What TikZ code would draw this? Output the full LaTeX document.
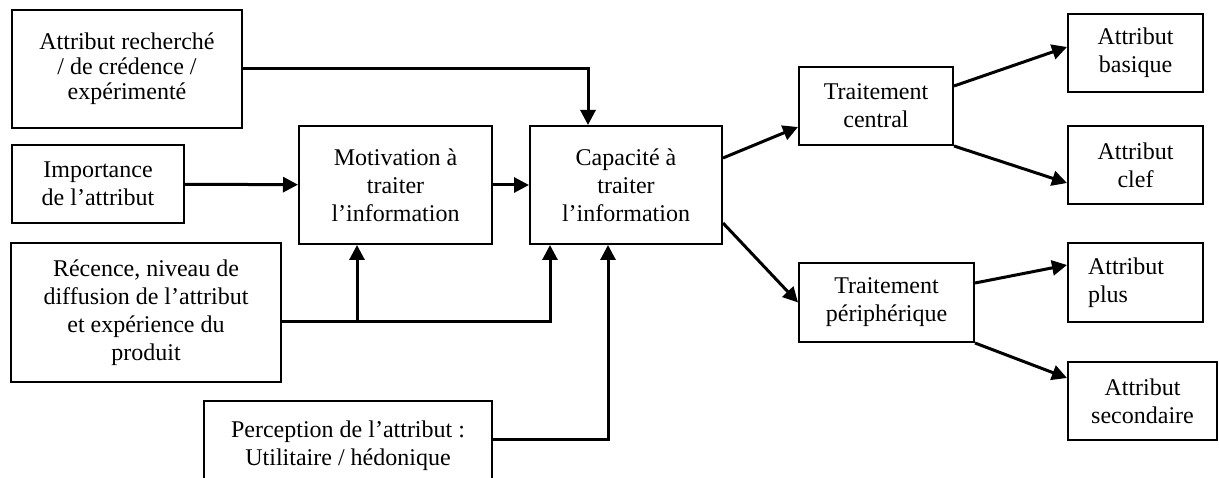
\documentclass[tikz,border=0pt]{standalone}
\usepackage{fontspec}
\setmainfont{Liberation Serif}
\usepackage{tikz}
\usetikzlibrary{arrows.meta}

\begin{document}
\begin{tikzpicture}[x=1pt,y=-1pt,
    box/.style={draw, line width=2pt, align=center, inner sep=0pt,
        font=\fontsize{24pt}{28pt}\selectfont},
    fleche/.style={-{Triangle[length=15pt,width=15pt]}, line width=3pt}]
    \useasboundingbox (0,0) rectangle (1219,478);

    % facteurs
    \node[box, minimum width=230pt, minimum height=118pt,
        font=\fontsize{24pt}{25pt}\selectfont] (Recherche) at (127,69)
        {Attribut recherch\'e\\/ de cr\'edence /\\exp\'eriment\'e};
    \node[box, minimum width=172pt, minimum height=78pt] (Importance) at (98,184)
        {Importance\\de l'attribut};
    \node[box, minimum width=270pt, minimum height=139pt] (Recence) at (146,312.5)
        {R\'ecence, niveau de\\diffusion de l'attribut\\et exp\'erience du\\produit};
    \node[box, minimum width=288pt, minimum height=90pt] (Perception) at (348,446)
        {Perception de l'attribut :\\Utilitaire / h\'edonique};

    % traitement
    \node[box, minimum width=193pt, minimum height=118pt] (Motivation) at (395.5,185)
        {Motivation \`a\\traiter\\l'information};
    \node[box, minimum width=192pt, minimum height=118pt] (Capacite) at (626,185)
        {Capacit\'e \`a\\traiter\\l'information};
    \node[box, minimum width=154pt, minimum height=78pt] (Central) at (876,106)
        {Traitement\\central};
    \node[box, minimum width=175pt, minimum height=79pt] (Periph) at (886.5,302.5)
        {Traitement\\p\'eriph\'erique};

    % attributs
    \node[box, minimum width=135pt, minimum height=78pt] (Basique) at (1135.5,53)
        {Attribut\\basique};
    \node[box, minimum width=135pt, minimum height=78pt] (Clef) at (1135.5,165)
        {Attribut\\clef};
    \node[box, minimum width=135pt, minimum height=79pt, align=left,
        text width=95pt] (Plus) at (1135.5,282.5)
        {Attribut\\plus};
    \node[box, minimum width=149pt, minimum height=78pt] (Secondaire) at (1142.5,401)
        {Attribut\\secondaire};

    \coordinate (j1) at (357,322);

    \draw[fleche] (Recherche.east) -| ([xshift=-38pt]Capacite.north);
    \draw[fleche] (Recence.east |- j1) -| ([xshift=-76pt]Capacite.south);
    \draw[fleche] (j1) -- (j1 |- Motivation.south);
    \draw[fleche] ([yshift=7pt]Perception.east) -| ([xshift=-18pt]Capacite.south);

    \path[fleche]
    (Importance) edge (Motivation)
    (Motivation) edge (Capacite)
    ([yshift=27pt]Capacite.east) edge ([yshift=-21pt]Central.west)
    ([yshift=-38pt]Capacite.east) edge (Periph.west)
    ([yshift=20pt]Central.east) edge ([yshift=6pt]Basique.west)
    (Central.south east) edge ([yshift=-18pt]Clef.west)
    ([yshift=19.5pt]Periph.east) edge ([yshift=17.5pt]Plus.west)
    (Periph.south east) edge ([yshift=23pt]Secondaire.west);
\end{tikzpicture}
\end{document}
